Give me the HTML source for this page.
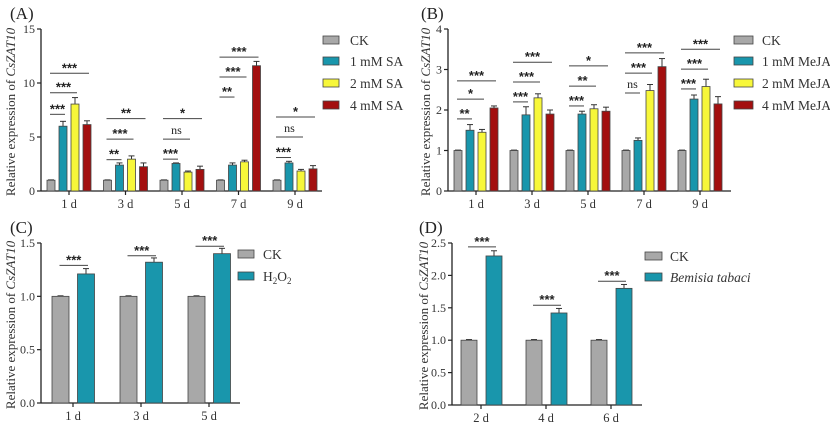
<!DOCTYPE html>
<html><head><meta charset="utf-8"><style>
body{margin:0;background:#fff;}
svg{display:block;font-family:"Liberation Serif",serif;}
</style></head><body>
<svg id="fig" width="830" height="428" viewBox="0 0 830 428"></svg>
<script>
// ---- Panel A data (SA) ----
const catsA = ["1 d","3 d","5 d","7 d","9 d"];
const seriesA = ["CK","1 mM SA","2 mM SA","4 mM SA"];
const valsA = [[1,1,1,1,1],[6.0,2.4,2.55,2.4,2.6],[8.05,2.95,1.75,2.7,1.85],[6.15,2.25,2.0,11.6,2.05]];
const errsA = [[0.03,0.03,0.03,0.03,0.03],[0.45,0.2,0.05,0.2,0.15],[0.6,0.3,0.1,0.15,0.15],[0.35,0.35,0.3,0.4,0.3]];
const ticksA = [0,5,10,15];
const sigA = [[0,1,7.1,"***"],[0,2,9.1,"***"],[0,3,10.9,"***"],[1,1,2.9,"**"],[1,2,4.8,"***"],[1,3,6.7,"**"],[2,1,2.95,"***"],[2,2,4.8,"ns"],[2,3,6.7,"*"],[3,1,8.7,"**"],[3,2,10.55,"***"],[3,3,12.4,"***"],[4,1,3.1,"***"],[4,2,5.0,"ns"],[4,3,6.85,"*"]];
// ---- Panel B data (MeJA) ----
const catsB = ["1 d","3 d","5 d","7 d","9 d"];
const seriesB = ["CK","1 mM MeJA","2 mM MeJA","4 mM MeJA"];
const valsB = [[1,1,1,1,1],[1.5,1.88,1.9,1.25,2.27],[1.45,2.3,2.03,2.48,2.58],[2.05,1.9,1.97,3.07,2.15]];
const errsB = [[0.01,0.01,0.01,0.01,0.01],[0.14,0.2,0.07,0.06,0.1],[0.07,0.1,0.1,0.15,0.18],[0.05,0.1,0.1,0.2,0.18]];
const ticksB = [0,1,2,3,4];
const sigB = [[0,1,1.78,"**"],[0,2,2.27,"*"],[0,3,2.72,"***"],[1,1,2.2,"***"],[1,2,2.69,"***"],[1,3,3.18,"***"],[2,1,2.1,"***"],[2,2,2.59,"**"],[2,3,3.09,"*"],[3,1,2.42,"ns"],[3,2,2.91,"***"],[3,3,3.41,"***"],[4,1,2.52,"***"],[4,2,3.01,"***"],[4,3,3.5,"***"]];
// ---- Panel C data (H2O2) ----
const catsC = ["1 d","3 d","5 d"];
const seriesC = ["CK","H2O2"];
const valsC = [[1,1,1],[1.21,1.32,1.40]];
const errsC = [[0.005,0.005,0.005],[0.05,0.04,0.05]];
const ticksC = [0,0.5,1.0,1.5];
const sigC = [[0,1,1.29,"***"],[1,1,1.38,"***"],[2,1,1.47,"***"]];
// ---- Panel D data (Bemisia) ----
const catsD = ["2 d","4 d","6 d"];
const seriesD = ["CK","Bemisia tabaci"];
const valsD = [[1,1,1],[2.3,1.42,1.8]];
const errsD = [[0.01,0.01,0.01],[0.08,0.07,0.06]];
const ticksD = [0,0.5,1.0,1.5,2.0,2.5];
const sigD = [[0,1,2.44,"***"],[1,1,1.54,"***"],[2,1,1.91,"***"]];

const NS="http://www.w3.org/2000/svg";
const svg=document.getElementById('fig');
function mk(tag,attrs,parent,text){const e=document.createElementNS(NS,tag);for(const k in attrs)e.setAttribute(k,attrs[k]);if(text!==undefined)e.textContent=text;(parent||svg).appendChild(e);return e;}
const colors4=["#a8a8a8","#1996ac","#f7f73a","#a30f0f"];

function panel(p){
  const g=mk('g',{});
  
  
  const ymax=p.ticks[p.ticks.length-1];
  const Y=v=>p.y0-(v/ymax)*(p.y0-p.yTop);
  const X=i=>p.x1+p.step*i;
  // panel label
  const pl=mk('text',{x:p.labX,y:p.labY,'font-size':17,fill:'#222'},g,p.letter);
  
  
  // axes
  const ya=mk('line',{x1:p.ax,y1:p.yTop,x2:p.ax,y2:p.y0,stroke:'#222','stroke-width':1.3},g);
  
  
  const xa=mk('line',{x1:p.ax,y1:p.y0,x2:p.axEnd,y2:p.y0,stroke:'#222','stroke-width':1.3},g);
  
  
  p.ticks.forEach(t=>{
    mk('line',{x1:p.ax-4,y1:Y(t),x2:p.ax,y2:Y(t),stroke:'#222','stroke-width':1.2},g);
    const tl=mk('text',{x:p.ax-6,y:Y(t)+4,'font-size':12,'text-anchor':'end',fill:'#333'},g,p.fmt(t));
    
    
  });
  // y title
  const yt=mk('text',{transform:`translate(${p.ytX},${(p.yTop+p.y0)/2+2}) rotate(-90)`,'font-size':13,'text-anchor':'middle',fill:'#333'},g);
  
  
  mk('tspan',{},yt,'Relative expression of ');
  mk('tspan',{'font-style':'italic'},yt,'CsZAT10');
  // categories
  p.cats.forEach((c,i)=>{
    mk('line',{x1:X(i),y1:p.y0,x2:X(i),y2:p.y0+4,stroke:'#222','stroke-width':1.2},g);
    const cl=mk('text',{x:X(i),y:p.y0+17,'font-size':12.5,'text-anchor':'middle',fill:'#333'},g,c);
    
    
  });
  // bars
  p.vals.forEach((sv,s)=>{
    sv.forEach((v,i)=>{
      const cx=X(i)+p.off[s];
      const top=Y(v+p.errs[s][i]);
      mk('line',{x1:cx,y1:Y(v),x2:cx,y2:top,stroke:'#333','stroke-width':1},g);
      mk('line',{x1:cx-3,y1:top,x2:cx+3,y2:top,stroke:'#333','stroke-width':1},g);
      const b=mk('rect',{x:cx-p.bw/2,y:Y(v),width:p.bw,height:p.y0-Y(v),fill:p.colors[s],stroke:'#444','stroke-width':0.8},g);
      
      
    });
  });
  // significance
  p.sig.forEach(([gi,si,yv,lab])=>{
    const xa1=X(gi)+p.off[0]-1, xa2=X(gi)+p.off[si]+2;
    const yy=Y(yv);
    mk('line',{x1:xa1,y1:yy,x2:xa2,y2:yy,stroke:'#444','stroke-width':1},g);
    const st=mk('text',{x:(xa1+xa2)/2,y:lab==='ns'?yy-5:yy-1,'font-size':lab==='ns'?12:13,'font-weight':lab==='ns'?'normal':'bold','text-anchor':'middle',fill:'#222',
      'font-family':lab==='ns'?'"Liberation Serif",serif':'"Liberation Sans",sans-serif'},g,lab);
    
    
  });
  // legend
  p.series.forEach((s,i)=>{
    const ly=p.legY[i];
    const sw=mk('rect',{x:p.legX,y:ly-4,width:p.legW,height:8,fill:p.colors[i],stroke:'#444','stroke-width':0.8},g);
    
    
    let t;
    if(s==='H2O2'){
      t=mk('text',{x:p.legTX,y:ly+5,'font-size':13.5,fill:'#333'},g);
      mk('tspan',{},t,'H');mk('tspan',{'font-size':9,dy:3},t,'2');mk('tspan',{dy:-3},t,'O');mk('tspan',{'font-size':9,dy:3},t,'2');
    } else {
      t=mk('text',{x:p.legTX,y:ly+5,'font-size':13.5,fill:'#333','font-style':s==='Bemisia tabaci'?'italic':'normal'},g,s);
    }
    
    
  });
}
const f0=t=>String(t), f1=t=>t.toFixed(1);
panel({id:'a',letter:'(A)',labX:10,labY:19,ax:41,axEnd:322,yTop:29,y0:191,x1:69,step:56.5,bw:8,off:[-18,-6,6,18],
  cats:catsA,series:seriesA,vals:valsA,errs:errsA,ticks:ticksA,sig:sigA,colors:colors4,fmt:f0,ytX:15,
  legX:323,legW:16,legTX:350,legY:[40,61,83,105]});
panel({id:'b',letter:'(B)',labX:421,labY:19,ax:448,axEnd:731,yTop:29,y0:191,x1:476,step:56,bw:8,off:[-18,-6,6,18],
  cats:catsB,series:seriesB,vals:valsB,errs:errsB,ticks:ticksB,sig:sigB,colors:colors4,fmt:f0,ytX:430,
  legX:734,legW:19,legTX:762,legY:[40,61,83,105]});
panel({id:'c',letter:'(C)',labX:10,labY:233,ax:41,axEnd:240,yTop:243,y0:403,x1:73,step:68,bw:17,off:[-12.5,13],
  cats:catsC,series:seriesC,vals:valsC,errs:errsC,ticks:ticksC,sig:sigC,colors:colors4,fmt:f1,ytX:15,
  legX:238,legW:16,legTX:263,legY:[254,276]});
panel({id:'d',letter:'(D)',labX:419,labY:233,ax:452,axEnd:642,yTop:243,y0:405,x1:481,step:65,bw:16,off:[-12,13],
  cats:catsD,series:seriesD,vals:valsD,errs:errsD,ticks:ticksD,sig:sigD,colors:colors4,fmt:f1,ytX:428,
  legX:645,legW:17,legTX:670,legY:[256,277]});
</script>
</body></html>
